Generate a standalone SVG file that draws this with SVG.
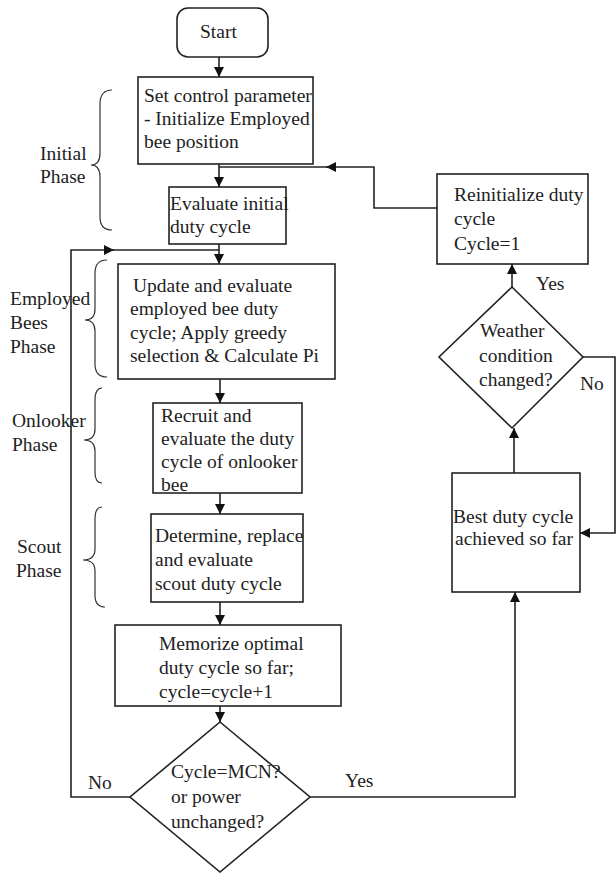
<svg xmlns="http://www.w3.org/2000/svg" width="616" height="873" viewBox="0 0 616 873" font-family="'Liberation Serif', 'Times New Roman', Tinos, 'DejaVu Serif', serif" font-size="19.5">
<defs>
<marker id="arr" markerUnits="userSpaceOnUse" markerWidth="11" markerHeight="10" refX="10" refY="5" orient="auto">
<path d="M0,0 L10,5 L0,10 z" fill="#111"/>
</marker>
<style>
.box{fill:none;stroke:#222;stroke-width:1.6}
.ln{fill:none;stroke:#222;stroke-width:1.6}
.br{fill:none;stroke:#333;stroke-width:1.2}
text{font-family:'Liberation Serif','Times New Roman',Tinos,'DejaVu Serif',serif;font-size:19.5px;fill:#222}
</style>
</defs>
<rect width="616" height="873" fill="#fff"/>

<g id="start">
<rect class="box" x="177" y="8" width="91" height="49" rx="11"/>
<text x="200" y="38">Start</text>
</g>
<g id="init">
<text x="144" y="102">Set control parameter</text>
<text x="144" y="125">- Initialize Employed</text>
<text x="144" y="148">bee position</text>
<rect class="box" x="138" y="77" width="175" height="87"/>
</g>
<g id="evalinit">
<text x="170" y="210">Evaluate initial</text>
<text x="170" y="233">duty cycle</text>
<rect class="box" x="169" y="187" width="117" height="57"/>
</g>
<g id="employed">
<text x="133" y="292">Update and evaluate</text>
<text x="130" y="315">employed bee duty</text>
<text x="130" y="339">cycle; Apply greedy</text>
<text x="130" y="362">selection &amp; Calculate Pi</text>
<rect class="box" x="118" y="264" width="217" height="115"/>
</g>
<g id="onlooker">
<text x="161" y="422">Recruit  and</text>
<text x="161" y="445">evaluate the duty</text>
<text x="161" y="468">cycle of onlooker</text>
<text x="161" y="491">bee</text>
<rect class="box" x="153" y="403" width="149" height="90"/>
</g>
<g id="scout">
<text x="155" y="542">Determine, replace</text>
<text x="155" y="566">and evaluate</text>
<text x="155" y="590">scout duty cycle</text>
<rect class="box" x="151" y="514" width="152" height="88"/>
</g>
<g id="memorize">
<text x="159" y="650">Memorize optimal</text>
<text x="159" y="674">duty cycle so far;</text>
<text x="159" y="698">cycle=cycle+1</text>
<rect class="box" x="115" y="625" width="226" height="81"/>
</g>
<g id="mcn">
<polygon class="box" points="220,722 310,797 220,872 130,797"/>
<text x="171" y="778">Cycle=MCN?</text>
<text x="171" y="803">or power</text>
<text x="171" y="828">unchanged?</text>
</g>
<g id="best">
<rect class="box" x="452" y="473" width="128" height="119"/>
<text x="453" y="523">Best duty cycle</text>
<text x="455" y="545">achieved so far</text>
</g>
<g id="weather">
<polygon class="box" points="512,287 583,357 512,428 439,357"/>
<text x="480" y="337">Weather</text>
<text x="479" y="362">condition</text>
<text x="479" y="386">changed?</text>
</g>
<g id="reinit">
<rect class="box" x="437" y="174" width="151" height="90"/>
<text x="454" y="201">Reinitialize duty</text>
<text x="454" y="225">cycle</text>
<text x="454" y="250">Cycle=1</text>
</g>

<g id="phases">
<path class="br" d="M112,90 Q100,90 100,104 L100,153 Q100,165 91,165 Q100,165 100,177 L100,217 Q100,230 112,230"/>
<text x="40" y="160">Initial</text>
<text x="40" y="183">Phase</text>
<path class="br" d="M107,260 Q95,260 95,273 L95,309 Q95,320 85,320 Q95,320 95,331 L95,364 Q95,377 107,377"/>
<text x="10" y="305">Employed</text>
<text x="10" y="329">Bees</text>
<text x="10" y="353">Phase</text>
<path class="br" d="M102,388 Q95,388 95,400 L95,429 Q95,440 84,440 Q95,440 95,451 L95,472 Q95,483 102,483"/>
<text x="12" y="427">Onlooker</text>
<text x="12" y="451">Phase</text>
<path class="br" d="M102,507 Q95,507 95,519 L95,549 Q95,560 83,560 Q95,560 95,571 L95,595 Q95,607 105,607"/>
<text x="17" y="553">Scout</text>
<text x="16" y="577">Phase</text>
</g>

<g id="connectors">
<path class="ln" d="M219,57 L219,77" marker-end="url(#arr)"/>
<path class="ln" d="M219,164 L219,187" marker-end="url(#arr)"/>
<path class="ln" d="M437,208 L374,208 L374,167 L326,167" marker-end="url(#arr)"/>
<path class="ln" d="M330,167 L219,167"/>
<path class="ln" d="M219,244 L219,264" marker-end="url(#arr)"/>
<path class="ln" d="M130,797 L71,797 L71,250 L114,250" marker-end="url(#arr)"/>
<path class="ln" d="M110,250 L219,250"/>
<path class="ln" d="M220,379 L220,403" marker-end="url(#arr)"/>
<path class="ln" d="M220,493 L220,514" marker-end="url(#arr)"/>
<path class="ln" d="M220,602 L220,625" marker-end="url(#arr)"/>
<path class="ln" d="M220,706 L220,722" marker-end="url(#arr)"/>
<path class="ln" d="M310,797 L515,797 L515,592" marker-end="url(#arr)"/>
<path class="ln" d="M514,473 L514,428" marker-end="url(#arr)"/>
<path class="ln" d="M512,287 L512,264" marker-end="url(#arr)"/>
<path class="ln" d="M583,357 L615,357 L615,533 L580,533" marker-end="url(#arr)"/>
<text x="88" y="789">No</text>
<text x="345" y="787">Yes</text>
<text x="536" y="290">Yes</text>
<text x="580" y="390">No</text>
</g>
</svg>
